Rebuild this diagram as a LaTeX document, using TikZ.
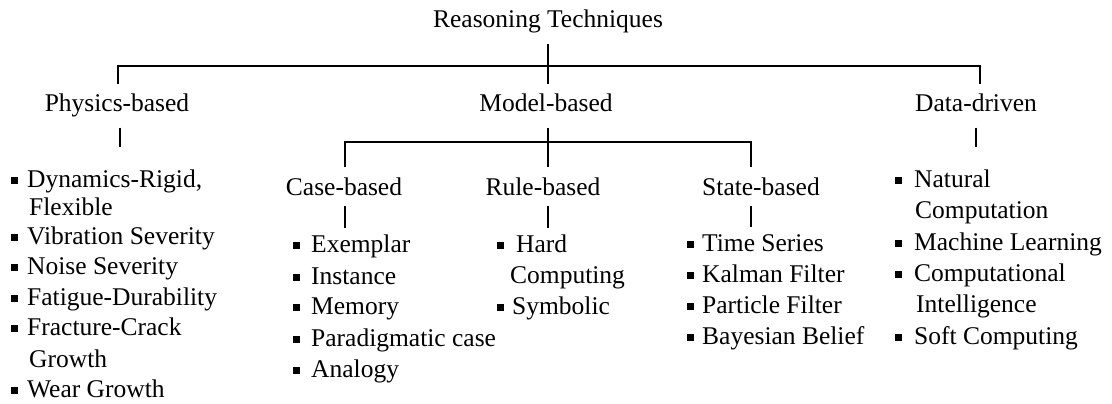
\documentclass[tikz,border=0pt]{standalone}
\usepackage{fontspec}
\setmainfont{Liberation Serif}
\usetikzlibrary{calc}
% small filled square used as list bullet
\newcommand{\sqbul}{\rule[2.6pt]{7pt}{7pt}}
% bulleted entry: bullet hangs to the left of the text start
\newcommand{\itm}[2]{\llap{\sqbul\hspace{#1}}#2}

\begin{document}
\begin{tikzpicture}[x=1pt,y=-1pt,
  lab/.style={font=\fontsize{25.5}{30}\selectfont, inner sep=0pt, outer ysep=10pt,
              text height=18pt, text depth=5.6pt, anchor=base},
  entry/.style={font=\fontsize{25.5}{30}\selectfont, inner sep=0pt,
              text height=18pt, text depth=5.6pt, anchor=base west},
  link/.style={line width=1.6pt}]
\useasboundingbox[fill=white] (0,0) rectangle (1112,404);

% ---- headings ----
\node[lab] (root)  at (548,28)  {Reasoning Techniques};
\node[lab] (phys)  at (117,112) {Physics-based};
\node[lab] (model) at (546,112) {Model-based};
\node[lab] (data)  at (976,112) {Data-driven};
\node[lab] (case)  at (344,195) {Case-based};
\node[lab] (rule)  at (543,195) {Rule-based};
\node[lab] (state) at (761,195) {State-based};

% ---- junctions of the brackets ----
\coordinate (j1) at (548,66);
\coordinate (j2) at (548,142);

% ---- tree connectors ----
\draw[link] (root.south -| j1) -- (model.north -| j1);
\draw[link] ([xshift=1pt]phys.north) |- (j1) -| ([xshift=4pt]data.north);
\draw[link] (model.south -| j2) -- (rule.north -| j2);
\draw[link] ([xshift=1pt]case.north) |- (j2) -| ([xshift=-10pt]state.north);

% ---- physics-based list ----
\node[entry] (p1) at (27,187) {\itm{9pt}{Dynamics-Rigid,}};
\node[entry] (p2) at (29,215) {Flexible};
\node[entry] (p3) at (27,244) {\itm{9pt}{Vibration Severity}};
\node[entry] (p4) at (27,274) {\itm{9pt}{Noise Severity}};
\node[entry] (p5) at (27,305) {\itm{9pt}{Fatigue-Durability}};
\node[entry] (p6) at (27,335) {\itm{9pt}{Fracture-Crack}};
\node[entry] (p7) at (29,367) {Growth};
\node[entry] (p8) at (27,397) {\itm{9pt}{Wear Growth}};

% ---- case-based list ----
\node[entry] (c1) at (311,252) {\itm{11pt}{Exemplar}};
\node[entry] (c2) at (311,284) {\itm{11pt}{Instance}};
\node[entry] (c3) at (311,314) {\itm{11pt}{Memory}};
\node[entry] (c4) at (311,346) {\itm{11pt}{Paradigmatic case}};
\node[entry] (c5) at (311,377) {\itm{11pt}{Analogy}};

% ---- rule-based list ----
\node[entry] (r1) at (516,252) {\itm{12pt}{Hard}};
\node[entry] (r2) at (510,283) {Computing};
\node[entry] (r3) at (512,314) {\itm{8pt}{Symbolic}};

% ---- state-based list ----
\node[entry] (s1) at (702,251) {\itm{8pt}{Time Series}};
\node[entry] (s2) at (702,282) {\itm{8pt}{Kalman Filter}};
\node[entry] (s3) at (702,313) {\itm{8pt}{Particle Filter}};
\node[entry] (s4) at (702,344) {\itm{8pt}{Bayesian Belief}};

% ---- data-driven list ----
\node[entry] (d1) at (914,187) {\itm{12pt}{Natural}};
\node[entry] (d2) at (915,218) {Computation};
\node[entry] (d3) at (914,250) {\itm{12pt}{Machine Learning}};
\node[entry] (d4) at (914,281) {\itm{12pt}{Computational}};
\node[entry] (d5) at (916,312) {Intelligence};
\node[entry] (d6) at (914,344) {\itm{12pt}{Soft Computing}};

% ---- short stems from headings to their lists ----
\draw[link, shorten >=22pt] ([xshift=3pt]phys.south) -- ([xshift=3pt]phys.south |- p1.north);
\draw[link, shorten >=22pt] (data.south) -- (data.south |- d1.north);
\draw[link, shorten <=-5pt, shorten >=6pt] ([xshift=1pt]case.south) -- ([xshift=1pt]case.south |- c1.north);
\draw[link, shorten <=-5pt, shorten >=6pt] (rule.south -| j2) -- (r1.north -| j2);
\draw[link, shorten <=-5pt, shorten >=6pt] ([xshift=-10pt]state.south) -- ([xshift=-10pt]state.south |- s1.north);
\end{tikzpicture}
\end{document}
